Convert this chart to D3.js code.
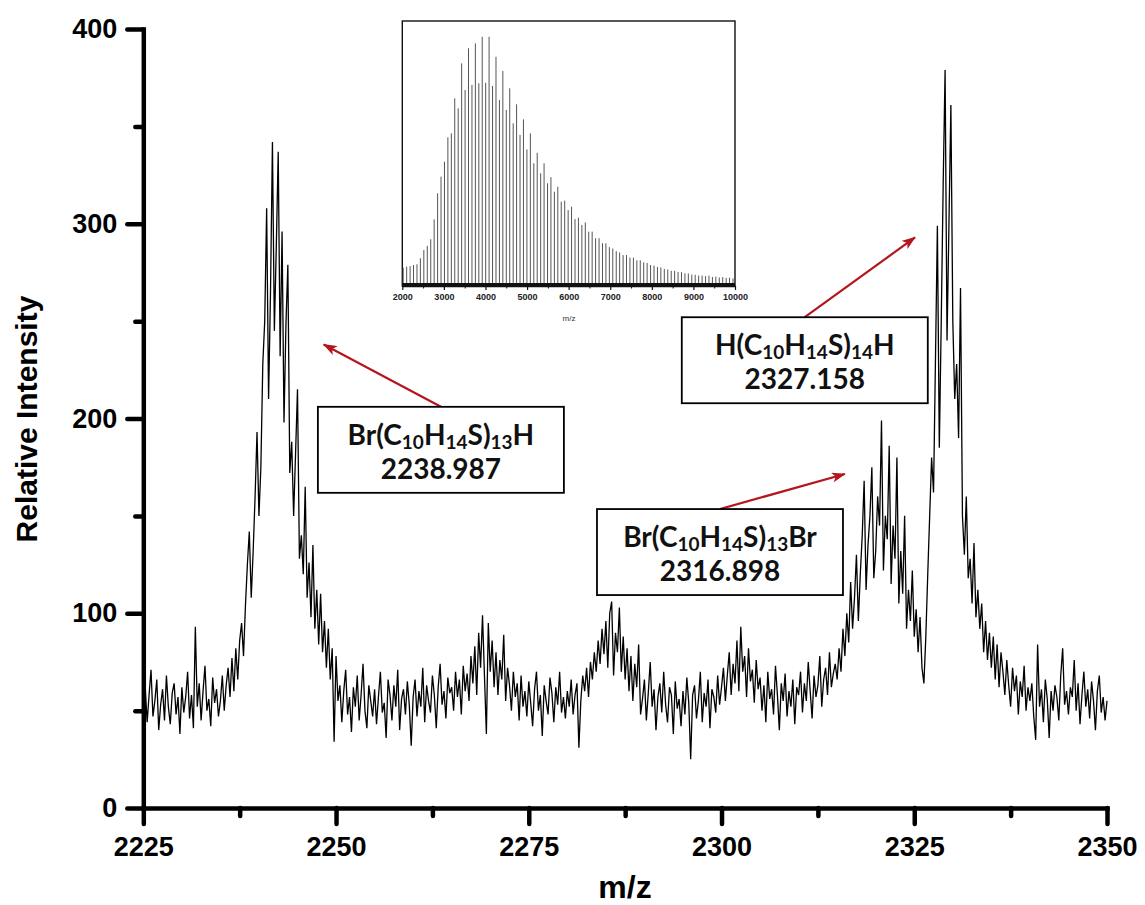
<!DOCTYPE html>
<html>
<head>
<meta charset="utf-8">
<script src="https://cdn.jsdelivr.net/npm/d3@7"></script>
<style>
body { margin: 0; background: #fff; }
svg { display: block; }
</style>
</head>
<body>
<script>
// spectrum sampled every 0.25 m/z from 2225 to 2350
var mzStart = 2225, mzStep = 0.25;
var intensity = [
  50, 62, 44, 58, 71, 47, 55, 66, 40, 53, 61, 45, 68, 52, 43, 59, 64, 48, 57, 38,
  62, 49, 57, 70, 46, 58, 41, 93, 52, 64, 45, 60, 73, 50, 56, 42, 67, 54, 61, 47,
  55, 68, 50, 63, 72, 57, 77, 60, 82, 66, 86, 95, 78, 104, 125, 142, 108, 132, 160, 193,
  150, 175, 228, 250, 308, 210, 265, 342, 245, 288, 337, 232, 296, 198, 248, 279, 172, 188, 150, 182,
  215, 128, 140, 120, 165, 108, 126, 98, 135, 92, 112, 84, 110, 80, 96, 72, 92, 66, 82, 34,
  78, 55, 63, 44, 60, 71, 48, 57, 39, 62, 52, 68, 45, 58, 74, 50, 41, 63, 55, 47,
  61, 43, 57, 70, 49, 54, 36, 66, 58, 45, 63, 52, 71, 40, 56, 61, 48, 65, 53, 32,
  57, 66, 47, 60, 52, 72, 44, 63, 55, 49, 68, 58, 41, 62, 74, 53, 60, 46, 67, 59,
  62, 50, 70, 57, 66, 48, 73, 60, 69, 55, 78, 64, 83, 58, 90, 72, 99, 68, 38, 95,
  70, 86, 62, 80, 58, 76, 66, 89, 55, 72, 63, 50, 70, 57, 64, 45, 68, 52, 60, 47,
  65, 54, 42, 61, 70, 50, 58, 37, 63, 55, 48, 67, 59, 44, 62, 53, 70, 49, 57, 46,
  60, 52, 66, 48, 58, 64, 31, 55, 68, 60, 72, 57, 75, 66, 80, 70, 86, 74, 92, 79,
  96, 72, 100, 106, 68, 90, 80, 103, 70, 88, 66, 82, 60, 78, 55, 74, 62, 84, 48, 56,
  66, 45, 59, 75, 52, 61, 40, 57, 64, 49, 70, 53, 44, 62, 58, 38, 65, 51, 56, 42,
  60, 48, 67, 54, 25, 58, 63, 46, 55, 70, 44, 59, 52, 66, 41, 61, 57, 49, 68, 53,
  62, 72, 55, 68, 80, 58, 74, 64, 86, 60, 93, 70, 78, 57, 82, 65, 71, 54, 76, 61,
  67, 50, 63, 44, 70, 56, 61, 48, 73, 58, 40, 64, 55, 69, 47, 60, 52, 66, 43, 62,
  58, 70, 49, 64, 55, 75, 60, 46, 68, 57, 63, 78, 52, 66, 72, 58, 80, 62, 69, 74,
  66, 82, 70, 92, 78, 100, 85, 116, 92, 108, 130, 96, 120, 140, 168, 112, 135, 150, 175, 118,
  132, 160, 145, 199, 122, 150, 138, 186, 115, 145, 128, 180, 105, 132, 110, 150, 92, 112, 96, 122,
  88, 102, 80, 98, 72, 64, 88, 120, 150, 180, 162, 230, 299, 185, 250, 320, 379, 240, 300, 361,
  250, 210, 228, 190, 267, 150, 130, 160, 118, 128, 105, 136, 98, 112, 92, 105, 80, 96, 76, 90,
  72, 88, 66, 84, 62, 80, 70, 58, 76, 63, 52, 72, 60, 68, 48, 65, 57, 73, 50, 62,
  55, 64, 47, 35, 84, 52, 61, 44, 66, 56, 36, 60, 50, 63, 57, 45, 68, 82, 53, 60,
  48, 62, 57, 76, 50, 64, 43, 58, 70, 52, 61, 46, 65, 55, 40, 60, 68, 49, 57, 45,
  55
];

var xTicks = [2225, 2250, 2275, 2300, 2325, 2350];
var xMinor = [2237.5, 2262.5, 2287.5, 2312.5, 2337.5];
var yTicks = [0, 100, 200, 300, 400];
var yMinor = [50, 150, 250, 350];

// inset: full spectrum, stick heights in % of max
var insetMz = [
  2022, 2105, 2188, 2270, 2353, 2435, 2518, 2601, 2684, 2766, 2849, 2931, 3014, 3096, 3179, 3261, 3344,
  3427, 3510, 3592, 3675, 3757, 3840, 3922, 4005, 4087, 4170, 4253, 4336, 4418, 4501, 4583, 4666,
  4748, 4831, 4913, 4996, 5079, 5162, 5244, 5327, 5409, 5492, 5574, 5657, 5739, 5822, 5905, 5988,
  6070, 6153, 6235, 6318, 6400, 6483, 6565, 6648, 6731, 6814, 6896, 6979, 7061, 7144, 7226, 7309,
  7391, 7474, 7557, 7640, 7722, 7805, 7887, 7970, 8052, 8135, 8217, 8300, 8383, 8466, 8548, 8631,
  8713, 8796, 8878, 8961, 9043, 9126, 9209, 9292, 9374, 9457, 9539, 9622, 9704, 9787, 9869, 9952
];
var insetHeight = [
  6.2, 6.6, 6.8, 7.2, 7.5, 9.8, 12.9, 14.5, 17, 24.6, 34.5, 40.8, 46.5, 55.8, 57.3, 70.6, 66.8,
  83.9, 73.8, 89.6, 75.7, 91.5, 76.3, 94, 76.5, 94, 75.3, 86.4, 70, 81, 66.2, 74.4, 61.1,
  68.3, 56.7, 62.6, 51.2, 57.3, 45.9, 49.9, 42.1, 45.9, 38.3, 40.6, 35.1, 37, 31.3, 31.7, 28.1,
  29.4, 24.7, 25.2, 22.4, 23.4, 19.9, 19.9, 17.4, 17.4, 15.5, 15.5, 14, 13.5, 12.5, 12, 11,
  11, 10, 10, 9, 9, 8.2, 8, 7.2, 7, 6.5, 6.3, 5.7, 5.5, 5, 5, 4.6,
  4.5, 4.1, 4, 3.6, 3.5, 3.2, 3.2, 3, 3.2, 2.7, 2.8, 2.5, 2.6, 2.3, 2.4, 2.1
];
var insetTicks = [2000, 3000, 4000, 5000, 6000, 7000, 8000, 9000, 10000];
var insetMinor = [2500, 3500, 4500, 5500, 6500, 7500, 8500, 9500];

// annotations: formula, mass, box centre (m/z, intensity at box top), arrow tip
var labelFormula = ["Br(C10H14S)13H", "H(C10H14S)14H", "Br(C10H14S)13Br"];
var labelMass = ["2238.987", "2327.158", "2316.898"];
var labelBoxMz = [2263.6, 2310.8, 2299.8];
var labelBoxTop = [206, 252, 153.5];
var labelTipMz = [2248.4, 2325.1, 2316.0];
var labelTipInt = [238, 293, 171.5];

var W = 1145, H = 905;
var svg = d3.select("body").append("svg")
    .attr("width", W)
    .attr("height", H);

var x = d3.scaleLinear().domain([2225, 2350]).range([143.3, 1107]);
var y = d3.scaleLinear().domain([0, 400]).range([808, 29]);

var axisFont = "'Liberation Sans', Arial, sans-serif";
var boxFont = "Lato, 'Open Sans', sans-serif";

// spectrum
var line = d3.line()
    .x(function(d, i) { return x(mzStart + i * mzStep); })
    .y(function(d) { return y(d); });

svg.append("path")
    .datum(intensity)
    .attr("d", line)
    .attr("fill", "none")
    .attr("stroke", "#000")
    .attr("stroke-width", 1.3)
    .attr("stroke-linejoin", "miter")
    .attr("stroke-miterlimit", 3);

// axes
function styleAxis(g, w) {
    g.select(".domain").attr("stroke", "#000").attr("stroke-width", w).attr("stroke-linecap", "square");
    g.selectAll(".tick line").attr("stroke", "#000").attr("stroke-width", w).attr("stroke-linecap", "round");
}

var gx = svg.append("g")
    .attr("transform", "translate(0,808)")
    .call(d3.axisBottom(x).tickValues(xTicks).tickSize(16).tickSizeOuter(0).tickPadding(13).tickFormat(d3.format("d")));
styleAxis(gx, 4.5);
gx.selectAll("text")
    .attr("font-family", axisFont)
    .attr("font-weight", "bold")
    .attr("font-size", 27)
    .attr("fill", "#000");

var gxm = svg.append("g")
    .attr("transform", "translate(0,808)")
    .call(d3.axisBottom(x).tickValues(xMinor).tickSize(8).tickFormat(""));
gxm.select(".domain").remove();
styleAxis(gxm, 4.5);

var gy = svg.append("g")
    .attr("transform", "translate(143.3,0)")
    .call(d3.axisLeft(y).tickValues(yTicks).tickSize(16).tickSizeOuter(0).tickPadding(10));
styleAxis(gy, 4.5);
gy.selectAll("text")
    .attr("font-family", axisFont)
    .attr("font-weight", "bold")
    .attr("font-size", 27)
    .attr("fill", "#000");

var gym = svg.append("g")
    .attr("transform", "translate(143.3,0)")
    .call(d3.axisLeft(y).tickValues(yMinor).tickSize(8).tickFormat(""));
gym.select(".domain").remove();
styleAxis(gym, 4.5);

svg.append("text")
    .attr("x", 625)
    .attr("y", 898)
    .attr("text-anchor", "middle")
    .attr("font-family", axisFont)
    .attr("font-weight", "bold")
    .attr("font-size", 32)
    .text("m/z");

svg.append("text")
    .attr("transform", "translate(37,419) rotate(-90)")
    .attr("text-anchor", "middle")
    .attr("font-family", axisFont)
    .attr("font-weight", "bold")
    .attr("font-size", 30)
    .text("Relative Intensity");

// inset
var ix = d3.scaleLinear().domain([2000, 10000]).range([402.3, 735]);
var iy = d3.scaleLinear().domain([0, 100]).range([284, 21]);

var inset = svg.append("g");
inset.append("rect")
    .attr("x", 402.3)
    .attr("y", 21)
    .attr("width", 735 - 402.3)
    .attr("height", 286 - 21)
    .attr("fill", "#fff")
    .attr("stroke", "#111")
    .attr("stroke-width", 1.4);

inset.selectAll(".stick")
    .data(insetMz)
    .enter().append("line")
    .attr("class", "stick")
    .attr("x1", function(d) { return ix(d); })
    .attr("x2", function(d) { return ix(d); })
    .attr("y1", iy(0))
    .attr("y2", function(d, i) { return iy(insetHeight[i]); })
    .attr("stroke", "#555")
    .attr("stroke-width", 1);

inset.append("line")
    .attr("x1", ix(2000))
    .attr("x2", ix(10000))
    .attr("y1", iy(0) + 1)
    .attr("y2", iy(0) + 1)
    .attr("stroke", "#111")
    .attr("stroke-width", 4);

var gix = inset.append("g")
    .attr("transform", "translate(0,286)")
    .call(d3.axisBottom(ix).tickValues(insetTicks).tickSize(4).tickSizeOuter(0).tickPadding(4).tickFormat(d3.format("d")));
gix.select(".domain").attr("stroke", "#111").attr("stroke-width", 1.4);
gix.selectAll(".tick line").attr("stroke", "#111").attr("stroke-width", 1.2);
gix.selectAll("text")
    .attr("font-family", axisFont)
    .attr("font-weight", "bold")
    .attr("font-size", 9)
    .attr("fill", "#222");

var gixm = inset.append("g")
    .attr("transform", "translate(0,286)")
    .call(d3.axisBottom(ix).tickValues(insetMinor).tickSize(2.5).tickFormat(""));
gixm.select(".domain").remove();
gixm.selectAll(".tick line").attr("stroke", "#111").attr("stroke-width", 1);

inset.append("text")
    .attr("x", 569)
    .attr("y", 321)
    .attr("text-anchor", "middle")
    .attr("font-family", axisFont)
    .attr("font-size", 8)
    .attr("fill", "#333")
    .text("m/z");

// annotation arrows and boxes
var red = "#b3161d";
svg.append("defs").append("marker")
    .attr("id", "ah")
    .attr("viewBox", "0 0 14 10")
    .attr("refX", 13)
    .attr("refY", 5)
    .attr("markerWidth", 14)
    .attr("markerHeight", 10)
    .attr("markerUnits", "userSpaceOnUse")
    .attr("orient", "auto")
    .append("path")
    .attr("d", "M0,0 L14,5 L0,10 L3.5,5 Z")
    .attr("fill", red);

var boxW = 246, boxH = 86;

labelFormula.forEach(function(f, i) {
    var cx = x(labelBoxMz[i]), top = y(labelBoxTop[i]);

    svg.append("line")
        .attr("x1", cx)
        .attr("y1", top)
        .attr("x2", x(labelTipMz[i]))
        .attr("y2", y(labelTipInt[i]))
        .attr("stroke", red)
        .attr("stroke-width", 2.2)
        .attr("marker-end", "url(#ah)");

    svg.append("rect")
        .attr("x", cx - boxW / 2)
        .attr("y", top)
        .attr("width", boxW)
        .attr("height", boxH)
        .attr("fill", "#fff")
        .attr("stroke", "#000")
        .attr("stroke-width", 1.8);

    // formula: digits become subscripts, each piece its own text, laid out left to right
    var g = svg.append("g");
    var cursor = 0;
    f.split(/(\d+)/).forEach(function(p, j) {
        if (p === "") return;
        var sub = j % 2 === 1;
        var t = g.append("text")
            .attr("x", cursor)
            .attr("y", top + 38 + (sub ? 4 : 0))
            .attr("font-family", boxFont)
            .attr("font-weight", "bold")
            .attr("font-size", sub ? 19 : 28)
            .attr("fill", "#111")
            .text(p);
        cursor += t.node().getComputedTextLength();
    });
    g.attr("transform", "translate(" + (cx - cursor / 2) + ",0)");

    svg.append("text")
        .attr("x", cx)
        .attr("y", top + 72)
        .attr("text-anchor", "middle")
        .attr("font-family", boxFont)
        .attr("font-weight", "bold")
        .attr("font-size", 28)
        .attr("fill", "#111")
        .text(labelMass[i]);
});
</script>
</body>
</html>
